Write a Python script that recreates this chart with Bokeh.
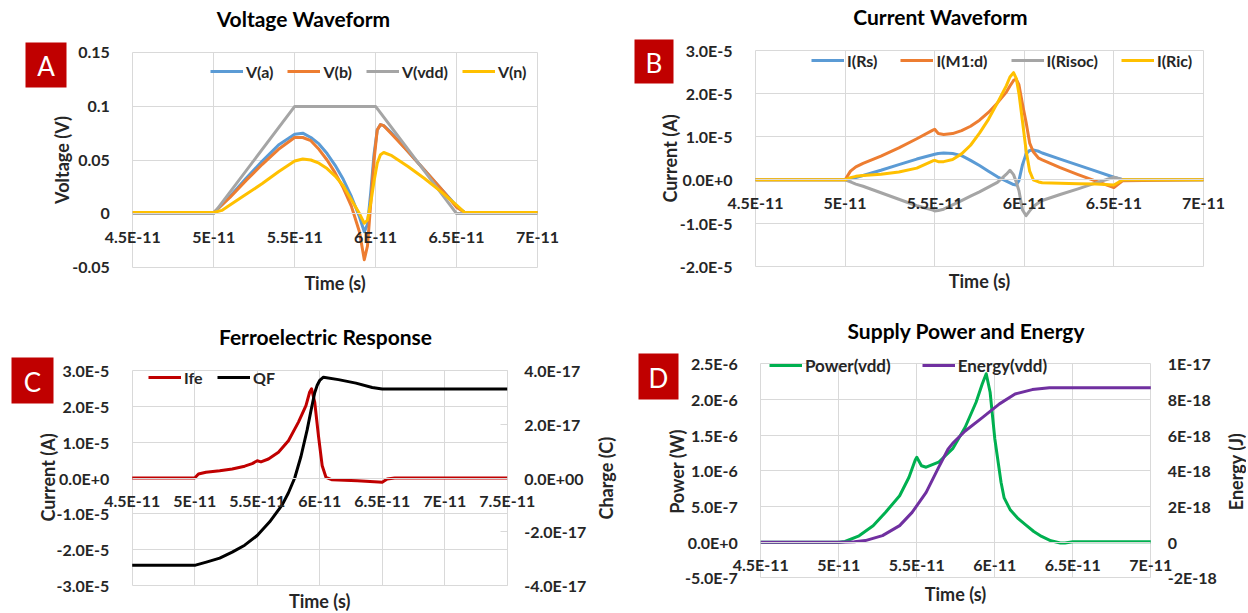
import numpy as np
from bokeh.plotting import figure
from bokeh.models import (Range1d, LinearAxis, FixedTicker, CustomJSTickFormatter,
                          Legend, LegendItem, Label, BoxAnnotation)
from bokeh.layouts import row, column
from bokeh.embed import file_html
from bokeh.resources import INLINE

# ---------------------------------------------------------------- data
# time values are given in units of 1e-11 s
T_UNIT = 1e-11

# Panel A : Voltage waveform (V)
A_T = [4.5, 5.0, 5.05, 5.1, 5.2, 5.3, 5.4, 5.5, 5.55, 5.6, 5.65, 5.7, 5.75, 5.8, 5.85,
       5.9, 5.93, 5.95, 5.97, 5.99, 6.01, 6.03, 6.05, 6.1, 6.2, 6.3, 6.4, 6.5, 6.55, 7.0]
A_VA = [0.001, 0.001, 0.008, 0.016, 0.033, 0.049, 0.064, 0.074, 0.075, 0.071, 0.065, 0.056,
        0.045, 0.032, 0.016, -0.003, -0.017, -0.010, 0.020, 0.055, 0.078, 0.083, 0.082,
        0.075, 0.058, 0.041, 0.024, 0.007, 0.001, 0.001]
A_VB = [0.001, 0.001, 0.008, 0.015, 0.031, 0.046, 0.060, 0.071, 0.071, 0.068, 0.060, 0.050,
        0.038, 0.024, 0.007, -0.017, -0.043, -0.030, 0.010, 0.050, 0.078, 0.083, 0.082,
        0.074, 0.058, 0.041, 0.024, 0.006, 0.001, 0.001]
A_VN = [0.001, 0.001, 0.003, 0.008, 0.018, 0.028, 0.039, 0.049, 0.051, 0.050, 0.047, 0.042,
        0.035, 0.026, 0.013, 0.000, -0.009, -0.006, 0.010, 0.030, 0.047, 0.055, 0.057,
        0.054, 0.044, 0.033, 0.021, 0.008, 0.001, 0.001]
A_VDD_T = [4.5, 5.0, 5.5, 6.0, 6.5, 7.0]
A_VDD = [0.0, 0.0, 0.1, 0.1, 0.0, 0.0]

# Panel B : Current waveform (units of 1e-5 A)
B_UNIT = 1e-5
B_T = [4.5, 5.0, 5.03, 5.06, 5.1, 5.2, 5.3, 5.4, 5.49, 5.5, 5.52, 5.55, 5.6, 5.65, 5.7,
       5.75, 5.8, 5.85, 5.9, 5.92, 5.94, 5.955, 5.97, 5.99, 6.01, 6.03, 6.05, 6.08, 6.1,
       6.2, 6.3, 6.4, 6.5, 6.55, 7.0]
B_IRS = [0, 0, 0.02, 0.05, 0.10, 0.22, 0.35, 0.48, 0.58, 0.59, 0.61, 0.62, 0.61, 0.56,
         0.45, 0.33, 0.20, 0.07, -0.03, -0.07, -0.11, -0.12, -0.02, 0.35, 0.60, 0.68, 0.69,
         0.66, 0.62, 0.48, 0.34, 0.20, 0.06, 0.0, 0.0]
B_IM1 = [0, 0, 0.20, 0.30, 0.38, 0.55, 0.74, 0.95, 1.15, 1.17, 1.07, 1.05, 1.07, 1.14,
         1.24, 1.38, 1.56, 1.78, 2.03, 2.17, 2.30, 2.33, 2.20, 1.75, 1.33, 0.85, 0.65,
         0.50, 0.46, 0.28, 0.12, -0.03, -0.18, -0.02, 0.0]
B_IRISOC = [0, 0, -0.05, -0.10, -0.15, -0.30, -0.45, -0.60, -0.70, -0.72, -0.71, -0.68,
            -0.58, -0.48, -0.38, -0.28, -0.17, -0.06, 0.13, 0.22, 0.12, -0.05, -0.25, -0.70,
            -0.83, -0.72, -0.62, -0.53, -0.48, -0.34, -0.21, -0.07, 0.06, 0.0, 0.0]
B_IRIC = [0, 0, 0.05, 0.08, 0.10, 0.13, 0.18, 0.27, 0.44, 0.45, 0.42, 0.42, 0.47, 0.60,
          0.80, 1.08, 1.40, 1.78, 2.18, 2.38, 2.48, 2.35, 2.00, 1.35, 0.68, 0.20, 0.0,
          -0.05, -0.07, -0.08, -0.09, -0.10, -0.12, 0.0, 0.0]

# Panel C : Ferroelectric response (current 1e-5 A, charge 1e-17 C)
C_I_UNIT = 1e-5
C_Q_UNIT = 1e-17
C_IFE_T = [4.5, 5.0, 5.03, 5.09, 5.2, 5.3, 5.4, 5.46, 5.5, 5.53, 5.59, 5.67, 5.75, 5.83,
           5.89, 5.92, 5.935, 5.96, 5.99, 6.02, 6.05, 6.1, 6.3, 6.47, 6.5, 6.54, 6.6, 7.5]
C_IFE = [0, 0, 0.11, 0.16, 0.20, 0.25, 0.33, 0.40, 0.48, 0.45, 0.53, 0.72, 1.04, 1.56,
         2.02, 2.40, 2.49, 2.12, 1.18, 0.34, 0.02, -0.05, -0.08, -0.11, -0.12, -0.03, 0.0, 0.0]
C_QF_T = [4.5, 5.0, 5.1, 5.2, 5.3, 5.4, 5.5, 5.6, 5.7, 5.75, 5.8, 5.85, 5.9, 5.93, 5.96,
          5.98, 6.0, 6.03, 6.15, 6.29, 6.42, 6.5, 7.5]
C_QF = [-3.25, -3.25, -3.12, -2.98, -2.76, -2.50, -2.14, -1.63, -1.00, -0.55, 0.0, 0.80,
        1.80, 2.50, 3.17, 3.45, 3.63, 3.75, 3.66, 3.53, 3.37, 3.31, 3.31]

# Panel D : Supply power (1e-6 W) and energy (1e-18 J)
D_P_UNIT = 1e-6
D_E_UNIT = 1e-18
D_P_T = [4.5, 5.0, 5.04, 5.13, 5.22, 5.3, 5.39, 5.45, 5.49, 5.5, 5.53, 5.56, 5.64, 5.73,
         5.81, 5.88, 5.92, 5.945, 5.97, 6.0, 6.04, 6.06, 6.1, 6.15, 6.2, 6.25, 6.3, 6.36,
         6.42, 6.45, 6.5, 7.0]
D_P = [0, 0, 0.01, 0.09, 0.23, 0.42, 0.65, 0.91, 1.15, 1.19, 1.07, 1.05, 1.12, 1.31, 1.61,
       1.96, 2.22, 2.36, 2.10, 1.45, 0.84, 0.62, 0.45, 0.33, 0.24, 0.15, 0.08, 0.02, -0.01,
       -0.01, 0.005, 0.005]
D_E_T = [4.5, 5.0, 5.1, 5.17, 5.28, 5.39, 5.47, 5.56, 5.64, 5.7, 5.73, 5.81, 5.92, 6.03,
         6.13, 6.24, 6.35, 7.0]
D_E = [0, 0, 0.03, 0.09, 0.37, 0.93, 1.67, 2.79, 4.19, 5.21, 5.54, 6.23, 6.98, 7.75, 8.30,
       8.55, 8.65, 8.65]

# axis ticks and their labels
X_TICKS = [4.5e-11, 5e-11, 5.5e-11, 6e-11, 6.5e-11, 7e-11]
X_LABELS = ["4.5E-11", "5E-11", "5.5E-11", "6E-11", "6.5E-11", "7E-11"]
XC_TICKS = [4.5e-11, 5e-11, 5.5e-11, 6e-11, 6.5e-11, 7e-11, 7.5e-11]
XC_LABELS = ["4.5E-11", "5E-11", "5.5E-11", "6E-11", "6.5E-11", "7E-11", "7.5E-11"]
A_YTICKS = [-0.05, 0.0, 0.05, 0.1, 0.15]
A_YLABELS = ["-0.05", "0", "0.05", "0.1", "0.15"]
B_YTICKS = [-2e-5, -1e-5, 0.0, 1e-5, 2e-5, 3e-5]
B_YLABELS = ["-2.0E-5", "-1.0E-5", "0.0E+0", "1.0E-5", "2.0E-5", "3.0E-5"]
C_YTICKS = [-3e-5, -2e-5, -1e-5, 0.0, 1e-5, 2e-5, 3e-5]
C_YLABELS = ["-3.0E-5", "-2.0E-5", "-1.0E-5", "0.0E+0", "1.0E-5", "2.0E-5", "3.0E-5"]
C_RTICKS = [-4e-17, -2e-17, 0.0, 2e-17, 4e-17]
C_RLABELS = ["-4.0E-17", "-2.0E-17", "0.0E+00", "2.0E-17", "4.0E-17"]
D_YTICKS = [-5e-7, 0.0, 5e-7, 1e-6, 1.5e-6, 2e-6, 2.5e-6]
D_YLABELS = ["-5.0E-7", "0.0E+0", "5.0E-7", "1.0E-6", "1.5E-6", "2.0E-6", "2.5E-6"]
D_RTICKS = [-2e-18, 0.0, 2e-18, 4e-18, 6e-18, 8e-18, 1e-17]
D_RLABELS = ["-2E-18", "0", "2E-18", "4E-18", "6E-18", "8E-18", "1E-17"]

# ---------------------------------------------------------------- style
FONT = "Lato"
TXT = "#262626"
GRID = "#D9D9D9"
RED = "#C00000"
C_BLUE, C_ORANGE, C_GRAY, C_YELLOW = "#5B9BD5", "#ED7D31", "#A5A5A5", "#FFC000"
LW = 3
TICK_FS = "16px"
AXT_FS = "18px"
TITLE_FS = "21px"


def tick_fmt(vals, labs):
    return CustomJSTickFormatter(args=dict(vals=vals, labs=labs), code="""
        let best = 0, bd = Infinity;
        for (let i = 0; i < vals.length; i++) {
            const d = Math.abs(vals[i] - tick);
            if (d < bd) { bd = d; best = i; }
        }
        return labs[best];
    """)


def style_text(ax, fs):
    ax.major_label_text_font = FONT
    ax.major_label_text_font_size = fs
    ax.major_label_text_font_style = "bold"
    ax.major_label_text_color = TXT


class Panel:
    """A figure whose frame fills the whole canvas; the plot area is placed
    at pixel rectangle `area` = (left, top, right, bottom)."""

    def __init__(self, W, H, area, xlim, ylim, xticks, xlabels, yticks, ylabels,
                 fs=TICK_FS):
        self.W, self.H = W, H
        self.fs = fs
        pl, pt, pr, pb = area
        self.area = area
        xlo, xhi = xlim
        ylo, yhi = ylim
        sx = (xhi - xlo) / (pr - pl)
        sy = (yhi - ylo) / (pb - pt)
        p = figure(width=W, height=H,
                   x_range=Range1d(xlo - pl * sx, xhi + (W - pr) * sx),
                   y_range=Range1d(ylo - (H - pb) * sy, yhi + pt * sy),
                   output_backend="svg", toolbar_location=None, min_border=0)
        p.title.visible = False
        p.outline_line_color = None
        p.background_fill_color = "white"
        p.border_fill_color = "white"
        ex = 1e-3 * (xhi - xlo)
        ey = 1e-3 * (yhi - ylo)
        for g in p.xgrid:
            g.ticker = FixedTicker(ticks=xticks)
            g.bounds = (xlo - ex, xhi + ex)
            g.cross_bounds = (ylo, yhi)
            g.grid_line_color = GRID
        for g in p.ygrid:
            g.ticker = FixedTicker(ticks=yticks)
            g.bounds = (ylo - ey, yhi + ey)
            g.cross_bounds = (xlo, xhi)
            g.grid_line_color = GRID
        ax = p.xaxis[0]
        ax.fixed_location = 0
        ax.bounds = (xlo, xhi)
        ax.ticker = FixedTicker(ticks=xticks)
        ax.formatter = tick_fmt(xticks, xlabels)
        ax.axis_line_color = GRID
        ax.major_tick_line_color = None
        ax.minor_tick_line_color = None
        ax.major_label_standoff = 7
        style_text(ax, fs)
        ay = p.yaxis[0]
        ay.fixed_location = xlo
        ay.bounds = (ylo, yhi)
        ay.ticker = FixedTicker(ticks=yticks)
        ay.formatter = tick_fmt(yticks, ylabels)
        ay.axis_line_color = None
        ay.major_tick_line_color = None
        ay.minor_tick_line_color = None
        ay.major_label_standoff = 17
        style_text(ay, fs)
        self.p = p
        self.xhi = xhi

    def right_axis(self, name, rlim, ticks, labels, tick_color=None):
        pl, pt, pr, pb = self.area
        rlo, rhi = rlim
        s = (rhi - rlo) / (pb - pt)
        self.p.extra_y_ranges = {name: Range1d(rlo - (self.H - pb) * s, rhi + pt * s)}
        ax = LinearAxis(y_range_name=name, ticker=FixedTicker(ticks=ticks),
                        formatter=tick_fmt(ticks, labels))
        ax.fixed_location = self.xhi
        ax.bounds = (rlo, rhi)
        ax.axis_line_color = None
        ax.major_tick_line_color = tick_color
        ax.major_tick_in = 7
        ax.major_tick_out = 0
        ax.minor_tick_line_color = None
        ax.major_label_standoff = 17
        style_text(ax, self.fs)
        self.p.add_layout(ax, "right")

    def text(self, x, y, text, size=AXT_FS, style="bold", color=TXT, angle=0.0):
        self.p.add_layout(Label(x=x, y=y, x_units="canvas", y_units="canvas", text=text,
                                text_font=FONT, text_font_size=size,
                                text_font_style=style, text_color=color,
                                text_align="center", text_baseline="middle", angle=angle))

    def badge(self, l, t, r, b, letter):
        self.p.add_layout(BoxAnnotation(left=l, right=r, top=t, bottom=b,
                                        left_units="canvas", right_units="canvas",
                                        top_units="canvas", bottom_units="canvas",
                                        fill_color=RED, fill_alpha=1.0, line_color=None))
        self.text((l + r) / 2, (t + b) / 2 + 1, letter, size="26px", style="normal",
                  color="white")

    def legend(self, items, x, cy, spacing, fs="16px"):
        h = 20
        lg = Legend(items=[LegendItem(label=n, renderers=[r]) for n, r in items],
                    location=(x, self.H - cy - h / 2), orientation="horizontal",
                    spacing=spacing, glyph_width=33, glyph_height=h, label_height=h,
                    label_standoff=3, padding=0, margin=0, border_line_color=None,
                    background_fill_alpha=0, label_text_font=FONT,
                    label_text_font_size=fs, label_text_font_style="bold",
                    label_text_color=TXT)
        self.p.add_layout(lg)

    def line(self, t, v, color, scale=1.0, **kw):
        return self.p.line(np.array(t) * T_UNIT, np.array(v) * scale, line_color=color,
                           line_width=LW, line_join="round", **kw)


XL = (4.5e-11, 7e-11)
WL, WR, HT, HB = 622, 624, 300, 311

# ---------------------------------------------------------------- panel A
A = Panel(WL, HT, (132.3, 52.3, 537, 266.7), XL, (-0.05, 0.15),
          X_TICKS, X_LABELS, A_YTICKS, A_YLABELS)
ra = A.line(A_T, A_VA, C_BLUE)
rb = A.line(A_T, A_VB, C_ORANGE)
rv = A.line(A_VDD_T, A_VDD, C_GRAY)
rn = A.line(A_T, A_VN, C_YELLOW)
A.legend([("V(a)", ra), ("V(b)", rb), ("V(vdd)", rv), ("V(n)", rn)], 210, 71, 14)
A.text(303, 17.5, "Voltage Waveform", size=TITLE_FS, color="black")
A.text(334.6, 282, "Time (s)")
A.text(61.7, 159.5, "Voltage (V)", angle=np.pi / 2)
A.badge(25, 42, 66, 87, "A")

# ---------------------------------------------------------------- panel B
B = Panel(WR, HT, (133, 49.7, 581, 265.7), XL, (-2e-5, 3e-5),
          X_TICKS, X_LABELS, B_YTICKS, B_YLABELS)
r1 = B.line(B_T, B_IRS, C_BLUE, B_UNIT)
r2 = B.line(B_T, B_IM1, C_ORANGE, B_UNIT)
r3 = B.line(B_T, B_IRISOC, C_GRAY, B_UNIT)
r4 = B.line(B_T, B_IRIC, C_YELLOW, B_UNIT)
B.legend([("I(Rs)", r1), ("I(M1:d)", r2), ("I(Risoc)", r3), ("I(Ric)", r4)], 189, 60, 23)
B.text(318, 15.5, "Current Waveform", size=TITLE_FS, color="black")
B.text(357, 280, "Time (s)")
B.text(47, 158, "Current (A)", angle=np.pi / 2)
B.badge(12, 39, 51, 83, "B")

# ---------------------------------------------------------------- panel C
C = Panel(WL, HB, (131.7, 70, 506.7, 285), (4.5e-11, 7.5e-11), (-3e-5, 3e-5),
          XC_TICKS, XC_LABELS, C_YTICKS, C_YLABELS)
C.right_axis("q", (-4e-17, 4e-17), C_RTICKS, C_RLABELS, tick_color=GRID)
rI = C.line(C_IFE_T, C_IFE, RED, C_I_UNIT)
rQ = C.line(C_QF_T, C_QF, "black", C_Q_UNIT, y_range_name="q")
C.legend([("Ife", rI), ("QF", rQ)], 148, 77, 13)
C.text(325, 35.5, "Ferroelectric Response", size=TITLE_FS, color="black")
C.text(319.2, 300, "Time (s)")
C.text(47, 177, "Current (A)", angle=np.pi / 2)
C.text(605, 177.7, "Charge (C)", angle=np.pi / 2)
C.badge(11, 57, 53, 103, "C")

# ---------------------------------------------------------------- panel D
D = Panel(WR, HB, (138.3, 63.2, 528.3, 277.4), XL, (-5e-7, 2.5e-6),
          X_TICKS, X_LABELS, D_YTICKS, D_YLABELS)
D.right_axis("e", (-2e-18, 1e-17), D_RTICKS, D_RLABELS, tick_color=None)
rP = D.line(D_P_T, D_P, "#00B050", D_P_UNIT)
rE = D.line(D_E_T, D_E, "#7030A0", D_E_UNIT, y_range_name="e")
D.legend([("Power(vdd)", rP), ("Energy(vdd)", rE)], 147, 65.7, 31, fs="17px")
D.text(344, 29.5, "Supply Power and Energy", size=TITLE_FS, color="black")
D.text(333, 293, "Time (s)")
D.text(54.7, 171, "Power (W)", angle=np.pi / 2)
D.text(613, 171, "Energy (J)", angle=np.pi / 2)
D.badge(16, 53, 56, 99, "D")

layout = column(row(A.p, B.p, spacing=0), row(C.p, D.p, spacing=0), spacing=0)
open("out.html", "w").write(file_html(layout, INLINE))
